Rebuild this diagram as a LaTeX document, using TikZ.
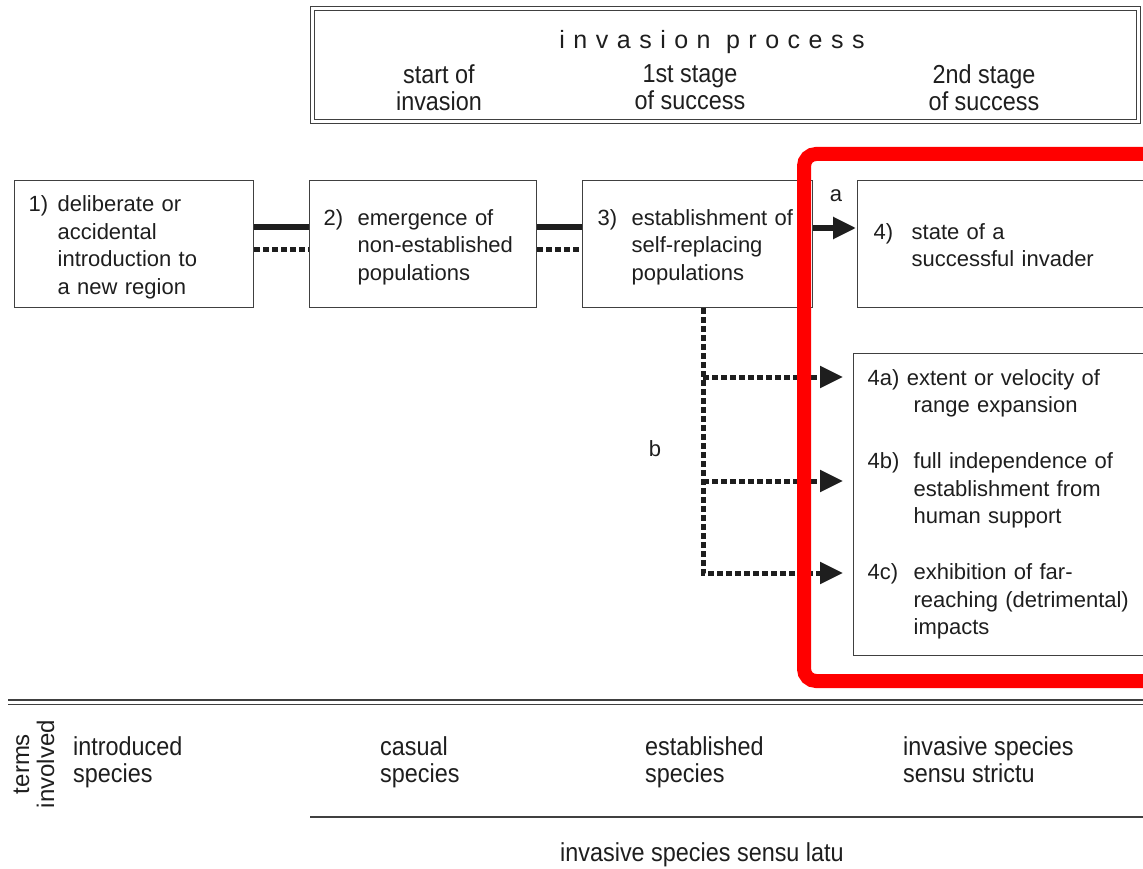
\documentclass[tikz,border=0pt]{standalone}
\usepackage{fontspec}
\setmainfont{Liberation Sans}
\newfontfamily\narrowfont[FakeStretch=0.9]{Liberation Sans}
\newfontfamily\spacedfont[LetterSpace=34]{Liberation Sans}
\usepackage{array}
\usetikzlibrary{arrows.meta,calc}
\newcommand\msz{\fontsize{22}{27.5}\selectfont}
\newcommand\nsz{\narrowfont\fontsize{26}{27}\selectfont}
\newcommand\lowstrut{\rule{0pt}{25.5pt}}
\definecolor{ink}{HTML}{1E1E1E}
\definecolor{frame}{HTML}{404040}
\definecolor{hl}{HTML}{FF0000}
\begin{document}
\begin{tikzpicture}[x=1pt,y=-1pt,
  stagebox/.style={draw=frame, line width=1.3pt, inner xsep=14pt, inner ysep=0pt,
     align=left, font=\msz, text=ink, anchor=north west},
  plain/.style={inner sep=0pt, text=ink},
  solidc/.style={draw=ink, line width=5.5pt},
  dotc/.style={draw=ink, line width=5pt, dash pattern=on 6pt off 3pt},
  tip/.style={-{Triangle[length=23pt,width=21pt]}},
  rule/.style={draw=frame, line width=1.2pt},
  dblrule/.style={draw=frame, line width=1.2pt, double, double distance=3pt}
]
\useasboundingbox (0,0) rectangle (1143,869);
\clip (0,0) rectangle (1143,869);

% header box
\node[dblrule, minimum width=826pt, minimum height=113pt, anchor=north west, inner sep=0pt] (hdr) at (312,8) {};
\node[plain, font=\spacedfont\fontsize{25}{30}\selectfont] (title) at (712,42) {invasion process};
\node[plain, font=\nsz, align=center] (h1) at (439,87.5) {start of\\invasion};
\node[plain, font=\nsz, align=center] (h2) at (690,87.5) {1st stage\\of success};
\node[plain, font=\nsz, align=center] (h3) at (984,87.5) {2nd stage\\of success};

% stage boxes
\node[stagebox, text width=211pt, minimum height=127pt] (b1) at (14,180)
  {\begin{tabular}{@{}p{29pt}@{}l@{}}1) & \lowstrut deliberate or\\ & accidental\\ & introduction to\\ & a new region\end{tabular}};
\node[stagebox, text width=199pt, minimum height=127pt] (b2) at (309,180)
  {\begin{tabular}{@{}p{34pt}@{}l@{}}2) & \lowstrut emergence of\\ & non-established\\ & populations\end{tabular}};
\node[stagebox, inner xsep=15pt, text width=200pt, minimum height=127pt] (b3) at (582,180)
  {\begin{tabular}{@{}p{34pt}@{}l@{}}3) & \lowstrut establishment of\\ & self-replacing\\ & populations\end{tabular}};
\node[stagebox, inner xsep=16pt, text width=268pt, minimum height=127pt] (b4) at (857,180)
  {\begin{tabular}{@{}p{38pt}@{}l@{}}4) & \lowstrut state of a\\ & successful invader\end{tabular}};
\node[stagebox, text width=272pt, minimum height=302pt] (b5) at (853,353)
  {\begin{tabular}{@{}p{46pt}@{}l@{}}\multicolumn{2}{@{}l@{}}{4a) extent or velocity of}\\
   & range expansion\\[28.5pt]
   4b) & full independence of\\ & establishment from\\ & human support\\[28.5pt]
   4c) & exhibition of far-\\ & reaching (detrimental)\\ & impacts\end{tabular}};

% helper coordinates
\coordinate (ys) at (0,227);
\coordinate (yd) at (0,249);
\coordinate (ya) at (0,228);
\coordinate (xv) at (703,0);
\coordinate (y4a) at (0,377);
\coordinate (y4b) at (0,481);
\coordinate (y4c) at (0,573);

% connectors 1-2, 2-3
\draw[solidc] (b1.east |- ys) -- (b2.west |- ys);
\draw[dotc] (b1.east |- yd) -- (b2.west |- yd);
\draw[solidc] (b2.east |- ys) -- (b3.west |- ys);
\draw[dotc] (b2.east |- yd) -- (b3.west |- yd);

% path a
\draw[solidc, tip] (b3.east |- ya) -- ([xshift=-1pt]b4.west |- ya);
\node[plain, font=\msz] (la) at (836,196) {a};

% path b
\draw[dotc, tip, shorten >=10pt] (b3.south -| xv) -- (xv |- y4c) -- (b5.west |- y4c);
\draw[dotc, tip, shorten >=10pt] (xv |- y4a) -- (b5.west |- y4a);
\draw[dotc, tip, shorten >=10pt] (xv |- y4b) -- (b5.west |- y4b);
\node[plain, font=\msz] (lb) at (655,449) {b};

% highlight frame
\draw[hl, line width=14pt, rounded corners=12pt] (804,154) rectangle (1175,681);

% terms section
\draw[dblrule] (8,702) -- (1150,702);
\node[plain, rotate=90, align=center, font=\fontsize{24}{25}\selectfont] (ti) at (34,764) {terms\\involved};
\node[plain, font=\nsz, align=left, anchor=west] (t1) at (73,762) {introduced\\species};
\node[plain, font=\nsz, align=left, anchor=west] (t2) at (380,762) {casual\\species};
\node[plain, font=\nsz, align=left, anchor=west] (t3) at (645,762) {established\\species};
\node[plain, font=\nsz, align=left, anchor=west] (t4) at (903,760) {invasive species\\sensu strictu};
\draw[rule] (310,817) -- (1150,817);
\node[plain, font=\nsz] (t5) at (702,855) {invasive species sensu latu};
\end{tikzpicture}
\end{document}
